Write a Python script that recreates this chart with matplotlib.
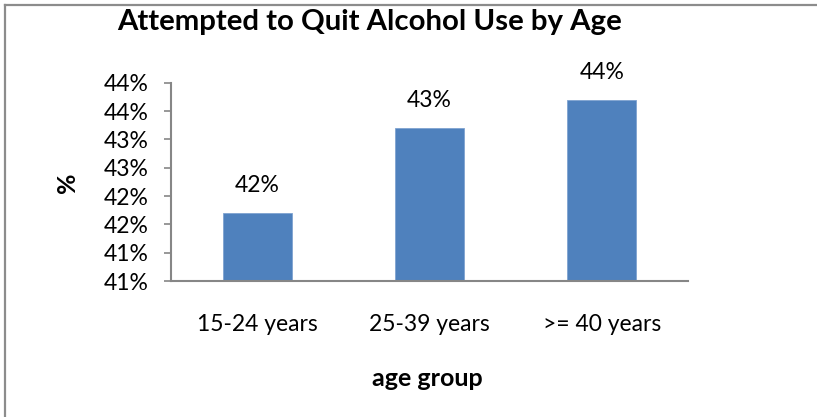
import math
import matplotlib
matplotlib.use("Agg")
import matplotlib.pyplot as plt
from matplotlib.lines import Line2D
from matplotlib.ticker import FuncFormatter, MultipleLocator

# data
groups = ["15-24 years", "25-39 years", ">= 40 years"]
pct = [41.7, 43.2, 43.7]

plt.rcParams['font.family'] = ['Lato', 'DejaVu Sans']

W, H = 817, 417
fig = plt.figure(figsize=(W/100, H/100), dpi=100)

# axes placed in pixel coords
left, right, top, bottom = 171, 688, 82.7, 281
ax = fig.add_axes([left/W, 1-bottom/H, (right-left)/W, (bottom-top)/H])

x = range(len(groups))
bars = ax.bar(x, pct, width=0.4, color="#4F81BD", edgecolor="#7FA3D1", linewidth=0.6, zorder=2)

ax.set_xlim(-0.5, len(groups)-0.5)
ax.set_ylim(40.5, 44.0)
ax.yaxis.set_major_locator(MultipleLocator(0.5))

def rnd(v, pos=None):
    # Excel-like half-up rounding
    return "%d%%" % math.floor(v + 0.5)

ax.yaxis.set_major_formatter(FuncFormatter(rnd))

for b, v in zip(bars, pct):
    ax.annotate(rnd(v), (b.get_x()+b.get_width()/2, v), xytext=(0, 12),
                textcoords="offset points", ha="center", va="bottom", fontsize=16.5)

ax.set_xticks(list(x))
ax.set_xticklabels(groups, fontsize=16.5)
ax.tick_params(axis="x", length=0, pad=24)
ax.tick_params(axis="y", length=5, width=1.2, color="#868686", labelsize=16.5, pad=11)

for s in ["top", "right"]:
    ax.spines[s].set_visible(False)
for s in ["left", "bottom"]:
    ax.spines[s].set_color("#868686")
    ax.spines[s].set_linewidth(1.5)

fig.text(370/W, 1-30/H, "Attempted to Quit Alcohol Use by Age", ha="center", va="baseline",
         fontsize=21.2, fontweight="bold")
fig.text(67/W, 1-183/H, "%", ha="center", va="center", rotation=90,
         fontsize=18, fontweight="bold")
fig.text(427/W, 1-378/H, "age group", ha="center", va="center",
         fontsize=18, fontweight="bold")

# chart border (left and top edges visible)
fig.add_artist(Line2D([5/W, 5/W], [0, 1-5/H], transform=fig.transFigure, color="#8C8C8C", lw=1.6))
fig.add_artist(Line2D([5/W, 1], [1-5/H, 1-5/H], transform=fig.transFigure, color="#8C8C8C", lw=1.6))

fig.savefig("out.png", dpi=100)
